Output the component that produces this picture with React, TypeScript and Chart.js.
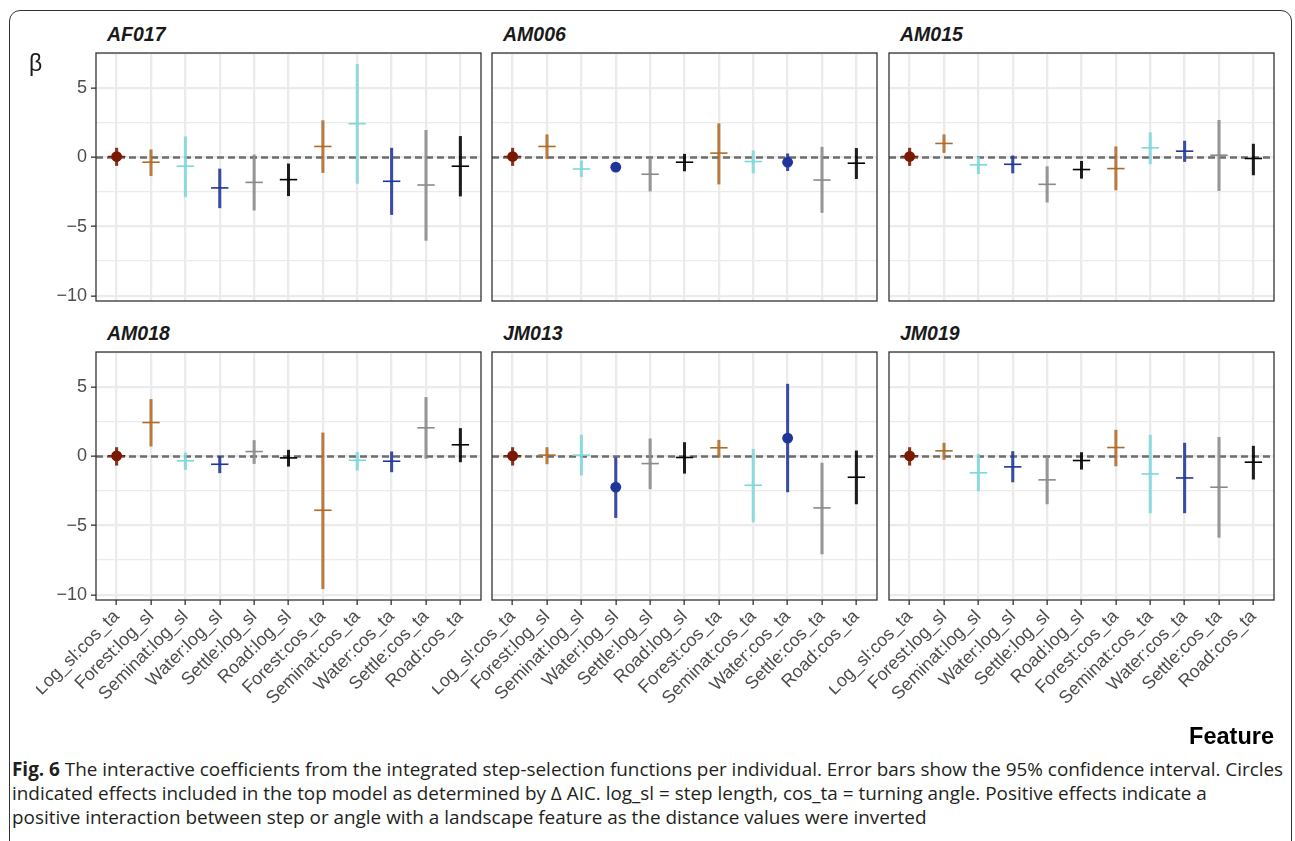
import React, { useEffect, useRef } from "react";
import { Chart, registerables } from "chart.js";

Chart.register(...registerables);

// ---------------- DATA ----------------
const features = [
  "Log_sl:cos_ta",
  "Forest:log_sl",
  "Seminat:log_sl",
  "Water:log_sl",
  "Settle:log_sl",
  "Road:log_sl",
  "Forest:cos_ta",
  "Seminat:cos_ta",
  "Water:cos_ta",
  "Settle:cos_ta",
  "Road:cos_ta",
];

const individuals = ["AF017", "AM006", "AM015", "AM018", "JM013", "JM019"];

// estimates (β), lower and upper 95% CI
const estAF017 = [0.07, -0.34, -0.63, -2.2, -1.8, -1.6, 0.8, 2.45, -1.72, -1.99, -0.63];
const loAF017 = [-0.58, -1.31, -2.84, -3.64, -3.81, -2.77, -1.09, -1.87, -4.13, -6.0, -2.79];
const hiAF017 = [0.68, 0.56, 1.5, -0.83, 0.19, -0.46, 2.67, 6.75, 0.68, 1.97, 1.53];

const estAM006 = [0.07, 0.8, -0.83, -0.7, -1.21, -0.34, 0.32, -0.29, -0.34, -1.63, -0.41];
const loAM006 = [-0.58, -0.07, -1.38, -0.95, -2.43, -0.97, -1.92, -1.12, -0.95, -3.98, -1.53];
const hiAM006 = [0.68, 1.65, -0.24, -0.45, -0.1, 0.24, 2.45, 0.49, 0.27, 0.75, 0.66];

const estAM015 = [0.07, 1.02, -0.53, -0.49, -1.94, -0.87, -0.8, 0.7, 0.46, 0.17, -0.07];
const loAM015 = [-0.58, 0.36, -1.17, -1.12, -3.23, -1.5, -2.35, -0.46, -0.29, -2.4, -1.26];
const hiAM015 = [0.68, 1.65, 0.02, 0.12, -0.66, -0.27, 0.78, 1.8, 1.19, 2.69, 0.97];

const estAM018 = [0.05, 2.46, -0.31, -0.56, 0.36, -0.1, -3.89, -0.27, -0.34, 2.08, 0.85];
const loAM018 = [-0.63, 0.75, -0.94, -1.18, -0.51, -0.7, -9.57, -0.99, -1.11, -0.14, -0.39];
const hiAM018 = [0.65, 4.13, 0.27, 0.02, 1.16, 0.46, 1.71, 0.31, 0.34, 4.28, 2.03];

const estJM013 = [0.05, 0.1, 0.1, -2.22, -0.51, -0.07, 0.63, -2.08, 1.33, -3.72, -1.5];
const loJM013 = [-0.63, -0.53, -1.35, -4.42, -2.34, -1.21, -0.05, -4.73, -2.56, -7.05, -3.43];
const hiJM013 = [0.65, 0.65, 1.55, 0.0, 1.28, 1.01, 1.18, 0.53, 5.24, -0.48, 0.41];

const estJM019 = [0.05, 0.41, -1.18, -0.75, -1.69, -0.29, 0.65, -1.26, -1.55, -2.22, -0.41];
const loJM019 = [-0.63, -0.22, -2.49, -1.84, -3.43, -0.92, -0.68, -4.08, -4.08, -5.85, -1.64];
const hiJM019 = [0.65, 0.97, 0.17, 0.36, -0.02, 0.29, 1.91, 1.55, 0.97, 1.38, 0.75];

// mark type: "c" = circle (in top model), "p" = plus, "cp" = both
const markAF017 = ["cp", "p", "p", "p", "p", "p", "p", "p", "p", "p", "p"];
const markAM006 = ["cp", "p", "p", "c", "p", "p", "p", "p", "c", "p", "p"];
const markAM015 = ["cp", "p", "p", "p", "p", "p", "p", "p", "p", "p", "p"];
const markAM018 = ["cp", "p", "p", "p", "p", "p", "p", "p", "p", "p", "p"];
const markJM013 = ["cp", "p", "p", "c", "p", "p", "p", "p", "c", "p", "p"];
const markJM019 = ["cp", "p", "p", "p", "p", "p", "p", "p", "p", "p", "p"];

const yMajorTicks = [-10, -5, 0, 5];
const yMinorTicks = [-7.5, -2.5, 2.5, 7.5];

const captionLine1 =
  " The interactive coefficients from the integrated step-selection functions per individual. Error bars show the 95% confidence interval. Circles";
const captionLine2 =
  "indicated effects included in the top model as determined by \u0394 AIC. log_sl = step length, cos_ta = turning angle. Positive effects indicate a";
const captionLine3 =
  "positive interaction between step or angle with a landscape feature as the distance values were inverted";

// ---------------- STYLE ----------------
const featureColors = [
  "#7A1800", // Log_sl:cos_ta
  "#B06A28", // Forest
  "#7FD6DB", // Seminat
  "#1F3599", // Water
  "#8A8A8A", // Settle
  "#000000", // Road
  "#B06A28",
  "#7FD6DB",
  "#1F3599",
  "#8A8A8A",
  "#000000",
];
const barAlpha = 0.88;

const FONT = "'Liberation Sans', Arial, Helvetica, sans-serif";
const COL_LEFT = [96, 492, 889];
const ROW_TOP = [53, 352];
const PLOT_W = 385;
const PLOT_H = 248;
const AX_L = 60;
const PAD_T = 4;
const PAD_R = 4;
const PAD_B = 4;
const AX_B = 150;

const X_MIN = 0.4;
const X_MAX = features.length + 0.6;

const allLo = [loAF017, loAM006, loAM015, loAM018, loJM013, loJM019].flat();
const allHi = [hiAF017, hiAM006, hiAM015, hiAM018, hiJM013, hiJM019].flat();
const dataMin = Math.min(...allLo);
const dataMax = Math.max(...allHi);
const Y_MIN = dataMin - 0.05 * (dataMax - dataMin);
const Y_MAX = dataMax + 0.05 * (dataMax - dataMin);

const panels = [
  { name: individuals[0], est: estAF017, lo: loAF017, hi: hiAF017, mark: markAF017 },
  { name: individuals[1], est: estAM006, lo: loAM006, hi: hiAM006, mark: markAM006 },
  { name: individuals[2], est: estAM015, lo: loAM015, hi: hiAM015, mark: markAM015 },
  { name: individuals[3], est: estAM018, lo: loAM018, hi: hiAM018, mark: markAM018 },
  { name: individuals[4], est: estJM013, lo: loJM013, hi: hiJM013, mark: markJM013 },
  { name: individuals[5], est: estJM019, lo: loJM019, hi: hiJM019, mark: markJM019 },
];

function hexA(hex: string, a: number) {
  const n = parseInt(hex.slice(1), 16);
  return `rgba(${(n >> 16) & 255},${(n >> 8) & 255},${n & 255},${a})`;
}

const isMajor = (v: number) => Math.abs(v % 5) < 1e-9;
const fmt = (v: number) => (v < 0 ? "\u2212" + Math.abs(v) : String(v));

const zeroPadding = (s: any) => {
  s.paddingTop = 0;
  s.paddingBottom = 0;
  s.paddingLeft = 0;
  s.paddingRight = 0;
};

const panelBorder = {
  id: "panelBorder",
  afterDraw(chart: any) {
    const { ctx, chartArea: a } = chart;
    ctx.save();
    ctx.strokeStyle = "#333333";
    ctx.lineWidth = 1.3;
    ctx.strokeRect(a.left, a.top, a.right - a.left, a.bottom - a.top);
    ctx.restore();
  },
};

function Panel({ p, col, row }: { p: any; col: number; row: number }) {
  const ref = useRef<HTMLCanvasElement>(null);
  const showY = col === 0;
  const showX = row === 1;
  const left = COL_LEFT[col] - AX_L;
  const top = ROW_TOP[row] - PAD_T;
  const width = AX_L + PLOT_W + PAD_R;
  const height = PAD_T + PLOT_H + (showX ? AX_B : PAD_B);

  useEffect(() => {
    if (!ref.current) return;
    const xs = features.map((_, i) => i + 1);
    const plusIdx = xs.map((_, i) => i).filter((i) => p.mark[i].includes("p"));
    const circIdx = xs.map((_, i) => i).filter((i) => p.mark[i].includes("c"));
    const yGrid = [...yMajorTicks, ...yMinorTicks].filter((v) => v >= Y_MIN && v <= Y_MAX).sort((a, b) => a - b);

    const chart = new Chart(ref.current, {
      type: "scatter",
      data: {
        datasets: [
          {
            type: "line",
            data: [
              { x: X_MIN, y: 0 },
              { x: X_MAX, y: 0 },
            ],
            borderColor: "#6E6E6E",
            borderWidth: 2.3,
            borderDash: [7, 4],
            pointRadius: 0,
            order: 10,
          } as any,
          {
            type: "bar",
            data: xs.map((x, i) => ({ x, y: [p.lo[i], p.hi[i]] })),
            backgroundColor: xs.map((_, i) => hexA(featureColors[i], barAlpha)),
            barThickness: 2.4,
            borderWidth: 0,
            order: 5,
          } as any,
          {
            type: "scatter",
            data: plusIdx.map((i) => ({ x: i + 1, y: p.est[i] })),
            pointStyle: "line",
            pointRadius: 8.7,
            pointHoverRadius: 8.7,
            pointBorderWidth: 1.6,
            pointBorderColor: plusIdx.map((i) => featureColors[i]),
            order: 2,
          } as any,
          {
            type: "scatter",
            data: circIdx.map((i) => ({ x: i + 1, y: p.est[i] })),
            pointStyle: "circle",
            pointRadius: 5.4,
            pointHoverRadius: 5.4,
            pointBorderWidth: 0,
            pointBackgroundColor: circIdx.map((i) => featureColors[i]),
            order: 1,
          } as any,
        ],
      },
      options: {
        responsive: false,
        maintainAspectRatio: false,
        animation: false,
        events: [],
        layout: {
          autoPadding: false,
          padding: { top: PAD_T, right: PAD_R, left: 0, bottom: showX ? 0 : PAD_B },
        },
        plugins: { legend: { display: false }, tooltip: { enabled: false } },
        scales: {
          x: {
            type: "linear",
            min: X_MIN,
            max: X_MAX,
            offset: false,
            afterBuildTicks: (s: any) => {
              s.ticks = xs.map((v) => ({ value: v }));
            },
            afterFit: (s: any) => {
              s.height = showX ? AX_B : 0;
              zeroPadding(s);
            },
            grid: {
              color: "#EBEBEB",
              lineWidth: 2.3,
              offset: false,
              drawTicks: showX,
              tickLength: 5,
              tickColor: "#333333",
              tickWidth: 1.3,
            },
            border: { display: false },
            ticks: {
              display: showX,
              autoSkip: false,
              minRotation: 45,
              maxRotation: 45,
              padding: 1,
              color: "#4D4D4D",
              font: { family: FONT, size: 18 },
              callback: (v: any) => features[Math.round(v) - 1] ?? "",
            },
          },
          y: {
            type: "linear",
            min: Y_MIN,
            max: Y_MAX,
            afterBuildTicks: (s: any) => {
              s.ticks = yGrid.map((v) => ({ value: v }));
            },
            afterFit: (s: any) => {
              s.width = AX_L;
              zeroPadding(s);
            },
            grid: {
              color: "#EBEBEB",
              lineWidth: (ctx: any) => (ctx.tick && isMajor(ctx.tick.value) ? 2.3 : 1.3),
              drawTicks: showY,
              tickLength: 5,
              tickColor: (ctx: any) => (ctx.tick && isMajor(ctx.tick.value) ? "#333333" : "rgba(0,0,0,0)"),
              tickWidth: 1.3,
            },
            border: { display: false },
            ticks: {
              display: showY,
              padding: 4,
              color: "#4D4D4D",
              font: { family: FONT, size: 18 },
              callback: (v: any) => (isMajor(v) ? fmt(v) : ""),
            },
          },
        },
      } as any,
      plugins: [panelBorder],
    });
    return () => chart.destroy();
  }, []);

  return (
    <>
      <canvas
        ref={ref}
        width={width}
        height={height}
        style={{ position: "absolute", left, top, width, height }}
      />
      <div
        style={{
          position: "absolute",
          left: COL_LEFT[col] + 11,
          top: ROW_TOP[row] - 29,
          font: `italic bold 19.5px/20px ${FONT}`,
          color: "#1A1A1A",
          whiteSpace: "nowrap",
        }}
      >
        {p.name}
      </div>
    </>
  );
}

export default function App() {
  return (
    <div
      style={{
        position: "fixed",
        left: 0,
        top: 0,
        width: 1295,
        height: 841,
        background: "#FFFFFF",
        overflow: "hidden",
      }}
    >
      <div
        style={{
          position: "absolute",
          left: 9,
          top: 10,
          width: 1283,
          height: 850,
          border: "1.4px solid #333",
          borderRadius: 11,
          boxSizing: "border-box",
        }}
      />
      {panels.map((p, i) => (
        <Panel key={p.name} p={p} col={i % 3} row={Math.floor(i / 3)} />
      ))}
      <div
        style={{
          position: "absolute",
          left: 29,
          top: 52,
          font: `23px/23px ${FONT}`,
          color: "#1A1A1A",
        }}
      >
        β
      </div>
      <div
        style={{
          position: "absolute",
          right: 1295 - 1274,
          top: 725,
          font: `bold 23.5px/23.5px ${FONT}`,
          color: "#000",
          whiteSpace: "nowrap",
        }}
      >
        Feature
      </div>
      <div
        style={{
          position: "absolute",
          left: 12,
          top: 757,
          font: `18.9px/24px 'Open Sans', ${FONT}`,
          color: "#231F20",
          whiteSpace: "nowrap",
        }}
      >
        <div>
          <b>Fig. 6</b>
          {captionLine1}
        </div>
        <div>{captionLine2}</div>
        <div>{captionLine3}</div>
      </div>
    </div>
  );
}
